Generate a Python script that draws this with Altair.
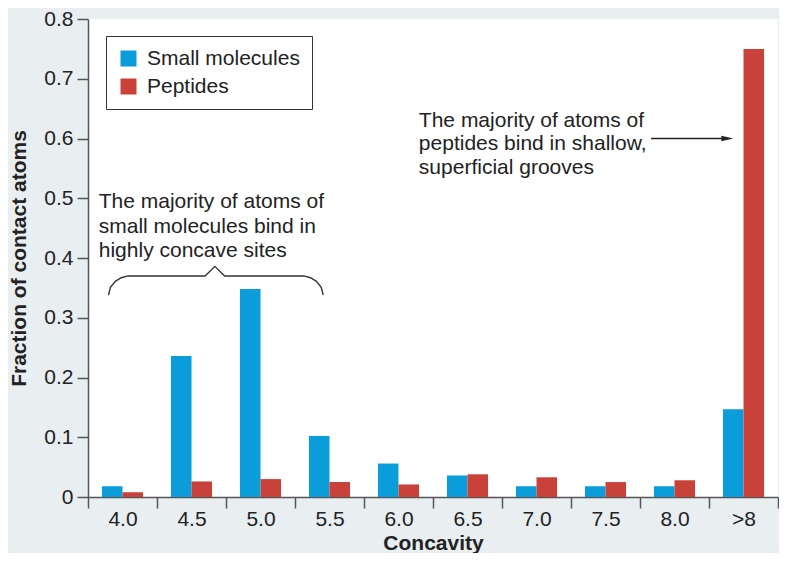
import altair as alt
import pandas as pd

# ---- data ----
categories = ["4.0", "4.5", "5.0", "5.5", "6.0", "6.5", "7.0", "7.5", "8.0", ">8"]
small_molecules = [0.018, 0.236, 0.348, 0.102, 0.056, 0.036, 0.018, 0.018, 0.018, 0.147]
peptides = [0.008, 0.026, 0.030, 0.025, 0.021, 0.038, 0.033, 0.025, 0.028, 0.750]
series = ["Small molecules", "Peptides"]
colors = ["#0b9dda", "#c9423a"]
y_ticks = [0, 0.1, 0.2, 0.3, 0.4, 0.5, 0.6, 0.7, 0.8]

# annotation text
left_note = ["The majority of atoms of", "small molecules bind in", "highly concave sites"]
right_note = ["The majority of atoms of", "peptides bind in shallow,", "superficial grooves"]

# annotation anchors in data units (x in band units 0..10, y in fraction)
left_note_x = 0.156
left_note_y = [0.4835, 0.4422, 0.4010]
right_note_x = 4.795
right_note_y = [0.620, 0.581, 0.541]

brace_x = [0.297, 0.325, 0.396, 0.481, 0.580, 1.697, 1.839, 1.980, 3.126, 3.225, 3.310, 3.380, 3.409]
brace_y = [0.338, 0.351, 0.361, 0.367, 0.370, 0.370, 0.386, 0.370, 0.370, 0.367, 0.361, 0.351, 0.338]

arrow_x, arrow_x2, arrow_y, arrow_head_x = 8.16, 9.22, 0.600, 9.265

FONT = "Liberation Sans"
TXT = "#222222"

y_scale = alt.Scale(domain=[0, 0.8], nice=False)
y_axis = alt.Axis(values=y_ticks, title="Fraction of contact atoms",
                  labelExpr="datum.value == 0 ? '0' : format(datum.value, '.1f')",
                  labelPadding=4, titlePadding=14)

bars_df = pd.DataFrame({
    "Concavity": categories * 2,
    "Series": [series[0]] * len(categories) + [series[1]] * len(categories),
    "Fraction": small_molecules + peptides,
})

bars = alt.Chart(bars_df).mark_bar().encode(
    x=alt.X("Concavity:N", sort=categories,
            scale=alt.Scale(paddingInner=0, paddingOuter=0),
            axis=alt.Axis(title="Concavity", tickBand="extent", labelAngle=0,
                          labelPadding=0, titlePadding=3)),
    xOffset=alt.XOffset("Series:N", sort=series,
                        scale=alt.Scale(domain=series, paddingInner=0, paddingOuter=0.68)),
    y=alt.Y("Fraction:Q", scale=y_scale, axis=y_axis),
    color=alt.Color("Series:N", sort=series,
                    scale=alt.Scale(domain=series, range=colors),
                    legend=alt.Legend(title=None, orient="none", legendX=18, legendY=17,
                                      symbolType="square", symbolSize=256,
                                      symbolStrokeWidth=0, labelFontSize=21,
                                      labelFont=FONT, labelColor=TXT,
                                      strokeColor="#333333", fillColor="white",
                                      padding=12, rowPadding=6, labelOffset=8)),
)

def ann_x(field="x"):
    return alt.X(f"{field}:Q", scale=alt.Scale(domain=[0, 10], nice=False, zero=False), axis=None)

def ann_y():
    return alt.Y("y:Q", scale=y_scale, axis=y_axis)

notes_df = pd.DataFrame({
    "x": [left_note_x] * 3 + [right_note_x] * 3,
    "y": left_note_y + right_note_y,
    "t": left_note + right_note,
})
notes = alt.Chart(notes_df).mark_text(
    align="left", baseline="alphabetic", fontSize=21, font=FONT, color=TXT
).encode(x=ann_x(), y=ann_y(), text="t:N")

brace_df = pd.DataFrame({"x": brace_x, "y": brace_y, "i": list(range(len(brace_x)))})
brace = alt.Chart(brace_df).mark_line(color="#333333", strokeWidth=1.4).encode(
    x=ann_x(), y=ann_y(), order="i:Q")

arrow_df = pd.DataFrame({"x": [arrow_x], "x2": [arrow_x2], "y": [arrow_y], "hx": [arrow_head_x]})
arrow = alt.Chart(arrow_df).mark_rule(color="#222222", strokeWidth=1.4).encode(
    x=ann_x(), x2="x2:Q", y=ann_y())
head = alt.Chart(arrow_df).mark_point(
    shape="M-1,-0.45L1,0L-1,0.45Z", filled=True, size=144, color="#222222", opacity=1
).encode(x=ann_x("hx"), y=ann_y())

chart = alt.layer(bars, notes, brace, arrow, head).resolve_scale(
    x="independent"
).properties(
    width=690, height=478,
    padding={"left": 0, "top": 0, "right": 0, "bottom": 0},
    background="#e9eef0",
).configure_view(
    fill="white", stroke=None
).configure_axis(
    domainColor="#555555", tickColor="#555555", domainWidth=1.5, tickWidth=1.5,
    tickSize=11, labelFontSize=21, titleFontSize=21, titleFontWeight="bold",
    labelFont=FONT, titleFont=FONT, labelColor=TXT, titleColor=TXT, grid=False,
)

chart.save("out.html", embed_options={"renderer": "svg", "actions": False})
